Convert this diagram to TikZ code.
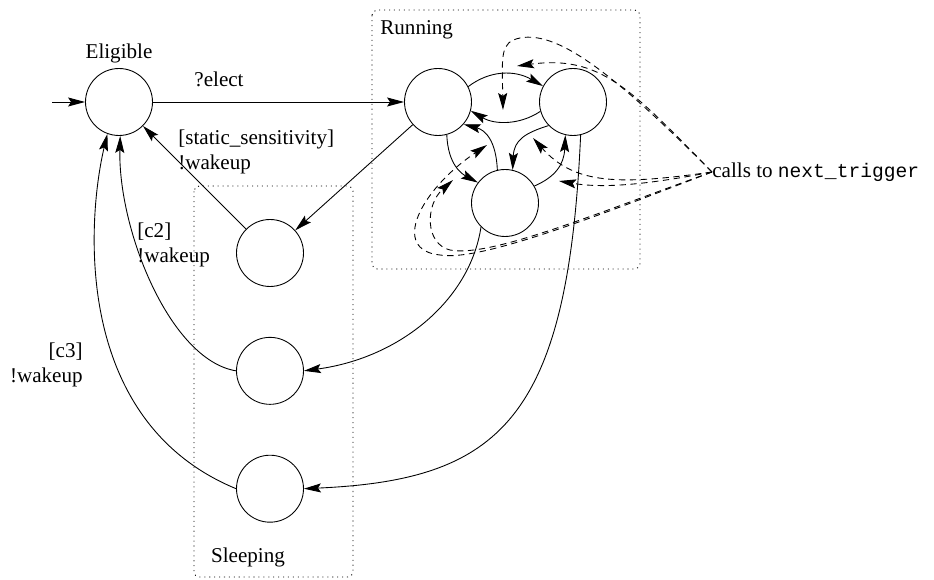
\documentclass[tikz,border=0pt]{standalone}
\usepackage{fontspec}
\setmainfont{Liberation Serif}
\setmonofont{Liberation Mono}[Scale=0.93]
\usetikzlibrary{arrows.meta,positioning}

\begin{document}
\begin{tikzpicture}[
  x=0.02cm, y=-0.02cm,
  every node/.style={font=\fontsize{12}{14.2}\selectfont},
  state/.style={draw, circle, minimum size=1.34cm, inner sep=0pt, line width=0.5pt},
  lbl/.style={inner sep=0pt, align=left},
  trans/.style={-{Stealth[length=3.4mm,width=1.8mm,inset=0.6mm]}, line width=0.5pt},
  call/.style={trans, dash pattern=on 3.6pt off 2.6pt},
  group/.style={line width=0.5pt, dash pattern=on 0.6pt off 2.2pt, rounded corners=3pt}
]
\useasboundingbox (0,0) rectangle (934,580);

% the two groups of states
\draw[group] (372,10) rectangle (640,269);
\draw[group] (194,186) rectangle (353,577);
\node[lbl, anchor=west] (running) at (380,30) {Running};
\node[lbl] (sleeping) at (248,557) {Sleeping};

% states
\node[state] (el) at (119,102) {};
\node[lbl, above=0.1cm of el] (ellbl) {Eligible};
\node[state] (r1) at (438,102) {};
\node[state] (r2) at (573,102) {};
\node[state] (r3) at (505,203) {};
\node[state] (s1) at (270,253) {};
\node[state, below=1cm of s1] (s2) {};
\node[state, below=1cm of s2] (s3) {};

% Eligible -> Running -> Sleeping
\coordinate (init) at (52,102);
\draw[trans] (init) -- (el);
\draw[trans] (el) -- (r1);
\node[lbl] (elect) at (219,79) {?elect};
\draw[trans] (r1) -- (s1);
\draw[trans] (r3.225) .. controls (470,300) and (400,358) .. (s2.east);
\draw[trans] (r2.283) .. controls (568,420) and (500,480) .. (s3.east);

% Sleeping -> Eligible
\draw[trans] (s1) -- (el);
\node[lbl, anchor=north west] (wake1) at (178,130) {[static\_sensitivity]\\!wakeup};
\draw[trans] (s2.west) .. controls (170,360) and (118,230) .. (el.272);
\node[lbl, anchor=north west] (wake2) at (137,223) {[c2]\\!wakeup};
\draw[trans] (s3.west) .. controls (70,420) and (88,215) .. (el.250);
\node[lbl, anchor=north east, align=right] (wake3) at (83,343) {[c3]\\!wakeup};

% inside Running
\draw[trans] (r1.27) .. controls (490,70) and (515,70) .. (r2.152);
\draw[trans] (r2.196) .. controls (520,125) and (495,125) .. (r1.345);
\draw[trans] (r1.285) .. controls (448,165) and (462,174) .. (r3.143);
\draw[trans] (r3.103) .. controls (496,140) and (485,130) .. (r1.319);
\draw[trans] (r2.224) .. controls (525,133) and (514,140) .. (r3.77);
\draw[trans] (r3.30) .. controls (555,177) and (564,165) .. (r2.257);

% calls to next_trigger
\node[lbl, anchor=west] (calls) at (712,172) {calls to \texttt{next\_trigger}};
\coordinate (tr1r2) at (517,66);
\coordinate (tr2r1) at (503,110);
\coordinate (tr2r3) at (533,138);
\coordinate (tr3r2) at (559,181);
\coordinate (tr3r1) at (487,145);
\coordinate (tr1r3) at (453,180);
\draw[call] (calls.west) .. controls (620,80) and (560,30) .. (520,38)
  .. controls (500,42) and (502,55) .. (tr2r1);
\draw[call] (calls.west) .. controls (630,88) and (600,55) .. (tr1r2);
\draw[call] (calls.west) .. controls (620,185) and (575,185) .. (tr2r3);
\draw[call] (calls.west) .. controls (640,186) and (600,188) .. (tr3r2);
\draw[call] (calls.west) .. controls (600,215) and (480,262) .. (440,255)
  .. controls (390,250) and (420,190) .. (tr3r1);
\draw[call] (calls.west) .. controls (600,212) and (490,258) .. (450,250)
  .. controls (425,244) and (425,205) .. (tr1r3);
\end{tikzpicture}
\end{document}
